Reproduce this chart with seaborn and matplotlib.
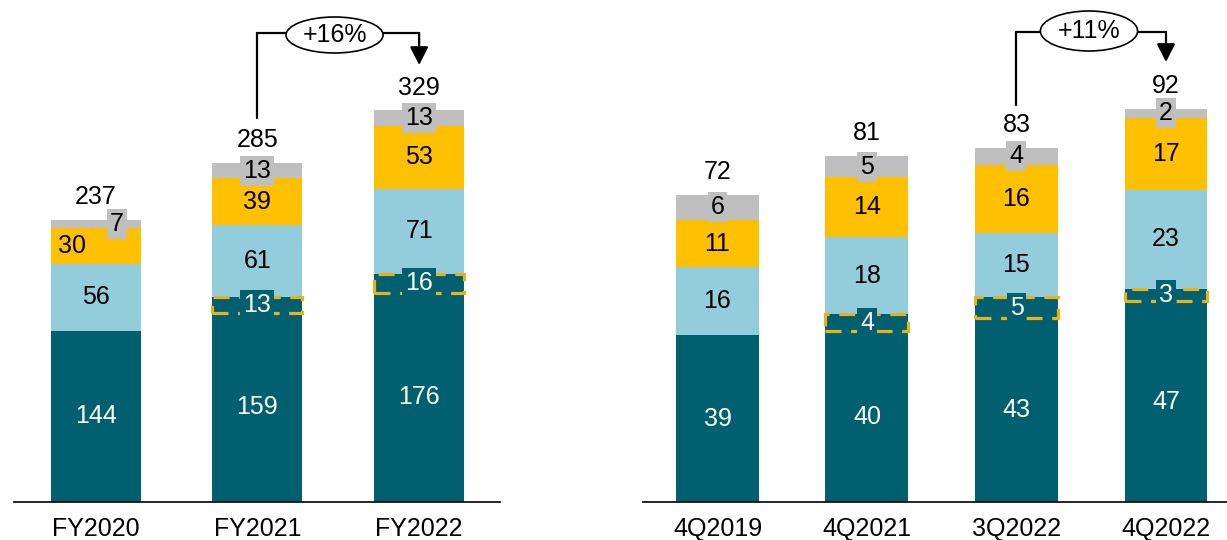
import matplotlib
matplotlib.use("Agg")
import matplotlib.pyplot as plt
import seaborn as sns
import pandas as pd
from matplotlib.patches import Ellipse

# ---------------- data ----------------
fy_cats = ["FY2020", "FY2021", "FY2022"]
fy_base = [144, 159, 176]
fy_new = [0, 13, 16]
fy_blue = [56, 61, 71]
fy_yellow = [30, 39, 53]
fy_grey = [7, 13, 13]
fy_total = [237, 285, 329]
fy_growth = "+16%"

q_cats = ["4Q2019", "4Q2021", "3Q2022", "4Q2022"]
q_base = [39, 40, 43, 47]
q_new = [0, 4, 5, 3]
q_blue = [16, 18, 15, 23]
q_yellow = [11, 14, 16, 17]
q_grey = [6, 5, 4, 2]
q_total = [72, 81, 83, 92]
q_growth = "+11%"

# ---------------- style ----------------
TEAL = "#00606F"
BLUE = "#93CDDC"
YELLOW = "#FFC000"
GREY = "#BFBFBF"
DASH = "#E8B31A"

sns.set_style("white")
plt.rcParams["font.family"] = ["Liberation Sans", "DejaVu Sans"]
plt.rcParams["text.color"] = "black"
plt.rcParams["xtick.color"] = "black"
FS = 18

W, H = 1227, 540
fig = plt.figure(figsize=(W / 100, H / 100), dpi=100)


def panel(ax, cats, base, new, blue, yellow, grey, total, growth,
          width, xlim, ylim, label_dx, bracket):
    df = pd.DataFrame({"cat": cats, "base": base, "new": new, "blue": blue,
                       "yellow": yellow, "grey": grey, "total": total})
    b0 = df["base"]
    b1 = b0 + df["new"]
    b2 = b1 + df["blue"]
    b3 = b2 + df["yellow"]
    segs = [("base", [0] * len(df), TEAL), ("new", b0, TEAL),
            ("blue", b1, BLUE), ("yellow", b2, YELLOW), ("grey", b3, GREY)]
    for col, bottom, colr in segs:
        sns.barplot(data=df, x="cat", y=col, order=cats, bottom=list(bottom),
                    color=colr, saturation=1, width=width, ax=ax,
                    linewidth=0, zorder=2)
    # dashed outline of new segment
    sub = df[df["new"] > 0]
    sns.barplot(data=sub, x="cat", y="new", order=cats,
                bottom=list(sub["base"]), width=width, ax=ax,
                color=DASH, saturation=1, fill=False, linewidth=2.3,
                linestyle=(0, (5, 3)), zorder=3)

    # labels
    for i in range(len(df)):
        dx = label_dx.get(i, {})
        ax.text(i, b0[i] / 2, str(df["base"][i]), ha="center", va="center",
                color="white", fontsize=FS, zorder=5)
        if df["new"][i] > 0:
            ax.text(i, b0[i] + df["new"][i] / 2, str(df["new"][i]),
                    ha="center", va="center", color="white", fontsize=FS,
                    zorder=5,
                    bbox=dict(boxstyle="square,pad=0.12", fc=TEAL, ec="none"))
        ax.text(i, b1[i] + df["blue"][i] / 2, str(df["blue"][i]),
                ha="center", va="center", color="black", fontsize=FS, zorder=5)
        ax.text(i + dx.get("yellow", 0), b2[i] + df["yellow"][i] / 2,
                str(df["yellow"][i]), ha="center", va="center",
                color="black", fontsize=FS, zorder=5)
        ax.text(i + dx.get("grey", 0), b3[i] + df["grey"][i] / 2,
                str(df["grey"][i]), ha="center", va="center", color="black",
                fontsize=FS, zorder=5,
                bbox=dict(boxstyle="square,pad=0.12", fc=GREY, ec="none"))
        ax.annotate(str(df["total"][i]), (i, df["total"][i]), xytext=(0, 16.5),
                    textcoords="offset points", ha="center", va="center",
                    fontsize=FS, zorder=5, color="black")

    # growth bracket
    i0, i1, y_start, y_top, y_tip, ex, ey, ew, eh = bracket
    ax.plot([i0, i0, i1], [y_start, y_top, y_top], color="black", lw=1.6,
            zorder=6, clip_on=False, solid_joinstyle="miter")
    ax.annotate("", xy=(i1, y_tip), xytext=(i1, y_top + 0.0),
                arrowprops=dict(arrowstyle="-|>,head_length=0.55,head_width=0.28",
                                mutation_scale=20, color="black", lw=1.6,
                                shrinkA=0, shrinkB=0),
                zorder=6, annotation_clip=False)
    ax.add_patch(Ellipse((ex, ey), ew, eh, facecolor="white",
                         edgecolor="black", lw=1.2, zorder=7, clip_on=False))
    ax.text(ex, ey, growth, ha="center", va="center", fontsize=FS, zorder=8,
            color="black")

    ax.set_xlim(*xlim)
    ax.set_ylim(*ylim)
    ax.set_xlabel("")
    ax.set_ylabel("")
    ax.set_yticks([])
    for s in ["left", "right", "top"]:
        ax.spines[s].set_visible(False)
    ax.spines["bottom"].set_color("black")
    ax.spines["bottom"].set_linewidth(1.2)
    ax.spines["bottom"].set_zorder(4)
    ax.tick_params(axis="x", length=0, pad=11, labelsize=FS, labelcolor="black")
    ax.patch.set_alpha(0)


base_y = 502
axL = fig.add_axes([14 / W, (H - base_y) / H, (500 - 14) / W, base_y / H])
axR = fig.add_axes([643 / W, (H - base_y) / H, (W - 643) / W, base_y / H])

sL = 1.19   # px per unit
panel(axL, fy_cats, fy_base, fy_new, fy_blue, fy_yellow, fy_grey, fy_total,
      fy_growth, width=0.557, xlim=(-0.505, 2.50), ylim=(0, base_y / sL),
      label_dx={0: {"yellow": -0.145, "grey": 0.13}},
      bracket=(1, 2, (base_y - 118) / sL, (base_y - 33) / sL,
               (base_y - 65) / sL, 1.477, (base_y - 35) / sL, 0.60, 36 / sL))

sR = 4.27
panel(axR, q_cats, q_base, q_new, q_blue, q_yellow, q_grey, q_total,
      q_growth, width=0.555, xlim=(-0.498, 3.408), ylim=(0, base_y / sR),
      label_dx={},
      bracket=(2, 3, (base_y - 105) / sR, (base_y - 32) / sR,
               (base_y - 62) / sR, 2.485, (base_y - 31) / sR, 0.65, 40 / sR))

fig.savefig("out.png", dpi=100)
